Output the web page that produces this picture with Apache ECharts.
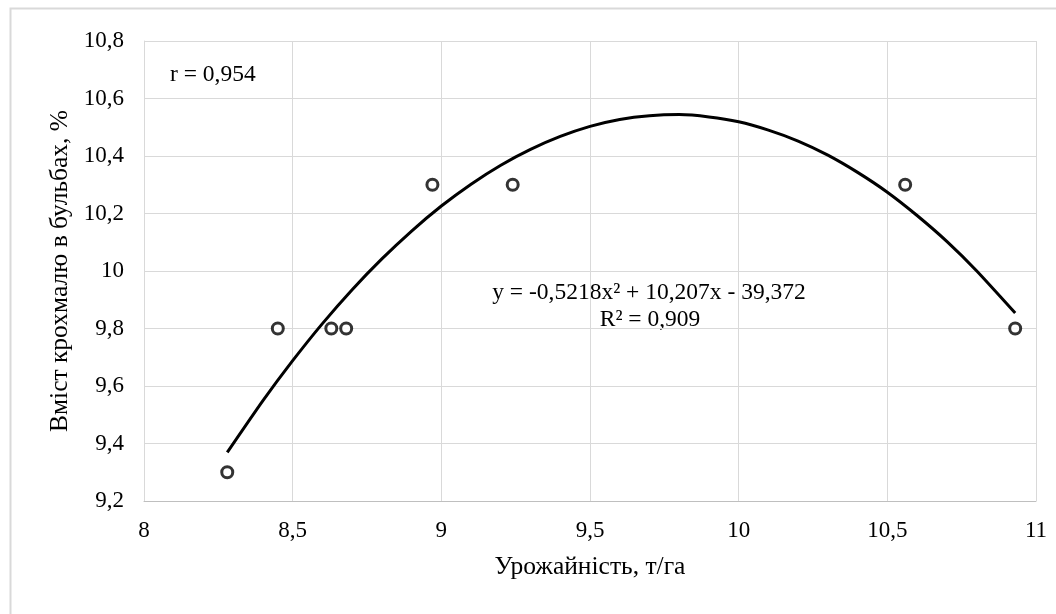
<!DOCTYPE html>
<html>
<head>
<meta charset="utf-8">
<script src="https://cdn.jsdelivr.net/npm/echarts@6/dist/echarts.min.js"></script>
<style>
html,body{margin:0;padding:0;background:#fff;}
#chart{width:1056px;height:614px;}
</style>
</head>
<body>
<div id="chart"></div>
<script>
// Observed points
const yieldX = [8.28, 8.45, 8.63, 8.68, 8.97, 9.24, 10.56, 10.93];
const starchY = [9.3, 9.8, 9.8, 9.8, 10.3, 10.3, 10.3, 9.8];
// Trend line values
const trendX = [8.28, 8.4, 8.5, 8.6, 8.7, 8.8, 8.9, 9.0, 9.1, 9.2, 9.3, 9.4, 9.5, 9.6, 9.7, 9.8, 9.9, 10.0, 10.1, 10.2, 10.3, 10.4, 10.5, 10.6, 10.7, 10.8, 10.93];
const trendY = [9.369, 9.549, 9.688, 9.817, 9.935, 10.042, 10.139, 10.226, 10.302, 10.368, 10.423, 10.468, 10.503, 10.527, 10.540, 10.544, 10.536, 10.519, 10.490, 10.452, 10.403, 10.343, 10.274, 10.193, 10.103, 10.001, 9.854];
const xTicks = {min: 8, max: 11, interval: 0.5};
const yTicks = {min: 9.2, max: 10.8, interval: 0.2};
const xName = 'Урожайність, т/га';
const yName = 'Вміст крохмалю в бульбах, %';
const rText = 'r = 0,954';
const eqText = 'y = -0,5218x² + 10,207x - 39,372';
const r2Text = 'R² = 0,909';

const FONT = '"Liberation Serif", "Times New Roman", serif';
const fmt = v => String(Math.round(v * 10) / 10).replace('.', ',');

const chart = echarts.init(document.getElementById('chart'), null, {renderer: 'canvas'});
chart.setOption({
  animation: false,
  backgroundColor: '#fff',
  grid: {left: 144, right: 20, top: 41, bottom: 113, containLabel: false},
  xAxis: {
    type: 'value', min: xTicks.min, max: xTicks.max, interval: xTicks.interval,
    name: xName, nameLocation: 'middle', nameGap: 53,
    nameTextStyle: {fontFamily: FONT, fontSize: 25.5, color: '#000'},
    axisLine: {show: true, lineStyle: {color: '#bfbfbf', width: 1}},
    axisTick: {show: false},
    axisLabel: {fontFamily: FONT, fontSize: 23, color: '#000', margin: 18, formatter: fmt},
    splitLine: {show: true, lineStyle: {color: '#d9d9d9', width: 1}}
  },
  yAxis: {
    type: 'value', min: yTicks.min, max: yTicks.max, interval: yTicks.interval,
    name: yName, nameLocation: 'middle', nameGap: 70,
    nameTextStyle: {fontFamily: FONT, fontSize: 25.5, color: '#000'},
    axisLine: {show: true, lineStyle: {color: '#d9d9d9', width: 1}},
    axisTick: {show: false},
    axisLabel: {fontFamily: FONT, fontSize: 23, color: '#000', margin: 20, formatter: fmt},
    splitLine: {show: true, lineStyle: {color: '#d9d9d9', width: 1}}
  },
  series: [
    {
      type: 'line', data: trendX.map((x, i) => [x, trendY[i]]),
      smooth: 0.2, showSymbol: false, symbol: 'none',
      lineStyle: {color: '#000', width: 3}, z: 2
    },
    {
      type: 'scatter', data: yieldX.map((x, i) => [x, starchY[i]]),
      symbol: 'circle', symbolSize: 11,
      itemStyle: {color: '#fff', borderColor: '#000', borderWidth: 3}, z: 3
    }
  ],
  graphic: [
    {type: 'rect', left: 8, top: 6, shape: {x: 0, y: 0, width: 1070, height: 640},
     style: {fill: 'none', stroke: '#d9d9d9', lineWidth: 2}, silent: true, z: -10},
    {type: 'text', x: 170, y: 75, style: {text: rText, font: '23.5px ' + FONT, fill: '#000', textAlign: 'left', textVerticalAlign: 'middle'}},
    {type: 'text', x: 649, y: 293, style: {text: eqText, font: '23.5px ' + FONT, fill: '#000', textAlign: 'center', textVerticalAlign: 'middle'}},
    {type: 'text', x: 650, y: 320, style: {text: r2Text, font: '23.5px ' + FONT, fill: '#000', textAlign: 'center', textVerticalAlign: 'middle'}}
  ]
});
</script>
</body>
</html>
